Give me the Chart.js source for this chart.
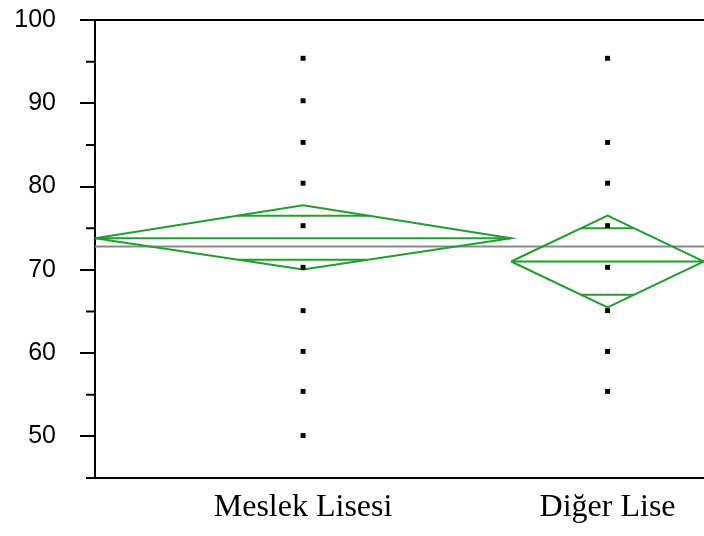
<!DOCTYPE html>
<html>
<head>
<meta charset="utf-8">
<script src="https://cdn.jsdelivr.net/npm/chart.js@4"></script>
<style>
  html, body { margin: 0; padding: 0; background: #fff; overflow: hidden; }
  #wrap { width: 704px; height: 536px; position: relative; }
</style>
</head>
<body>
<div id="wrap"><canvas id="meansChart"></canvas></div>
<script>
// groups (x widths proportional to group size, as in a means-diamonds plot)
const groups = ["Meslek Lisesi", "Diğer Lise"];
const groupSizes = [41, 19];
const groupMeans = [73.8, 71.0];
const diamondTop = [77.75, 76.5];
const diamondBottom = [70.05, 65.5];
const overlapUpper = [76.5, 75.0];
const overlapLower = [71.2, 67.0];
const grandMean = 72.8;

// observed scores per group
const scoresMeslek = [95.4, 90.3, 85.3, 80.4, 75.3, 70.3, 65.1, 60.2, 55.4, 50.1];
const scoresDiger = [95.4, 85.3, 80.4, 75.3, 70.3, 65.1, 60.2, 55.4];

const yMin = 45, yMax = 100, yMinorStep = 5, yMajorStep = 10;

const green = "#1f9e2f";

// group extents on the x scale
const bounds = [];
let acc = 0;
groupSizes.forEach(n => { bounds.push([acc, acc + n]); acc += n; });
const centers = bounds.map(b => (b[0] + b[1]) / 2);

function diamond(i) {
  const [x0, x1] = bounds[i];
  const c = centers[i];
  return [
    { x: x0, y: groupMeans[i] }, { x: c, y: diamondTop[i] },
    { x: x1, y: groupMeans[i] }, { x: c, y: diamondBottom[i] },
    { x: x0, y: groupMeans[i] }
  ];
}
function hline(i, v) {
  const half = (bounds[i][1] - bounds[i][0]) / 2;
  const tip = v >= groupMeans[i] ? diamondTop[i] : diamondBottom[i];
  const w = half * (1 - Math.abs(v - groupMeans[i]) / Math.abs(tip - groupMeans[i]));
  return [{ x: centers[i] - w, y: v }, { x: centers[i] + w, y: v }];
}
function lineSet(data, color, width) {
  return { type: "line", data, borderColor: color, borderWidth: width, pointRadius: 0, fill: false, tension: 0 };
}

const datasets = [
  {
    type: "scatter",
    data: scoresMeslek.map(v => ({ x: centers[0], y: v })).concat(scoresDiger.map(v => ({ x: centers[1], y: v }))),
    pointStyle: "rect", pointRadius: 3.5, backgroundColor: "#000", borderWidth: 0
  }
];
groups.forEach((g, i) => {
  datasets.push(lineSet(diamond(i), green, 2));
  datasets.push(lineSet([{ x: bounds[i][0], y: groupMeans[i] }, { x: bounds[i][1], y: groupMeans[i] }], green, 2));
  datasets.push(lineSet(hline(i, overlapUpper[i]), green, 2));
  datasets.push(lineSet(hline(i, overlapLower[i]), green, 2));
});
datasets.push(lineSet([{ x: 0, y: grandMean }, { x: acc, y: grandMean }], "#8a8a8a", 2));

// frame: top border and minor ticks on the y axis
const framePlugin = {
  id: "frame",
  afterDraw(chart) {
    const { ctx, chartArea, scales } = chart;
    ctx.save();
    ctx.strokeStyle = "#000";
    ctx.lineWidth = 2;
    ctx.beginPath();
    ctx.moveTo(chartArea.left - 15, chartArea.top);
    ctx.lineTo(chartArea.right, chartArea.top);
    for (let v = yMin; v <= yMax; v += yMinorStep) {
      if (v % yMajorStep === 0) continue;
      const y = scales.y.getPixelForValue(v);
      ctx.moveTo(chartArea.left - 9, y);
      ctx.lineTo(chartArea.left, y);
    }
    ctx.stroke();
    ctx.restore();
  }
};

new Chart(document.getElementById("meansChart"), {
  data: { datasets },
  options: {
    responsive: true,
    maintainAspectRatio: false,
    animation: false,
    layout: { autoPadding: false, padding: { top: 20, right: 0, left: 0, bottom: 0 } },
    plugins: { legend: { display: false }, tooltip: { enabled: false } },
    scales: {
      x: {
        type: "linear",
        min: 0,
        max: acc,
        afterFit: s => {
          s.height = 58;
          s.paddingLeft = 0; s.paddingRight = 0;
        },
        afterBuildTicks: s => { s.ticks = centers.map(v => ({ value: v })); },
        grid: { display: false, drawTicks: false },
        border: { display: true, color: "#000", width: 2 },
        ticks: {
          padding: 10,
          color: "#000",
          font: { family: "'Liberation Serif', 'Times New Roman', serif", size: 32 },
          callback: (v, i) => groups[i]
        }
      },
      y: {
        type: "linear",
        min: yMin,
        max: yMax,
        afterFit: s => {
          s.width = 95;
          s.paddingTop = 0; s.paddingBottom = 0;
        },
        afterBuildTicks: s => {
          const t = [];
          for (let v = 50; v <= yMax; v += yMajorStep) t.push({ value: v });
          s.ticks = t;
        },
        grid: { drawOnChartArea: false, drawTicks: true, tickLength: 15, color: "#000", lineWidth: 2 },
        border: { display: true, color: "#000", width: 2 },
        ticks: {
          padding: 24,
          color: "#000",
          font: { family: "'Liberation Sans', Arial, Helvetica, sans-serif", size: 25 }
        }
      }
    }
  },
  plugins: [framePlugin]
});
</script>
</body>
</html>
